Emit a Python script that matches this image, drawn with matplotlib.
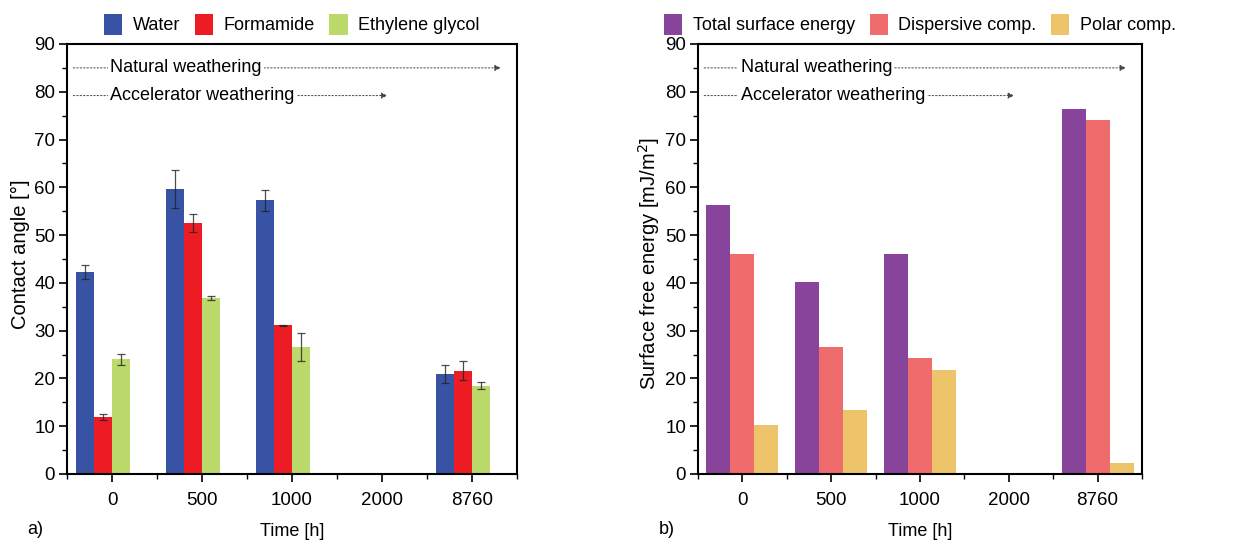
import numpy as np
import matplotlib.pyplot as plt
from matplotlib.ticker import MultipleLocator, FixedLocator

plt.rcParams['font.family'] = ['Liberation Sans', 'DejaVu Sans']
plt.rcParams['font.size'] = 13

times = ["0", "500", "1000", "2000", "8760"]

# contact angles (deg), nan where nothing was measured
water = [42.3, 59.6, 57.3, np.nan, 20.9]
water_err = [1.5, 4.0, 2.2, np.nan, 1.9]
formamide = [11.9, 52.5, 31.1, np.nan, 21.6]
formamide_err = [0.7, 1.9, 0.15, np.nan, 2.0]
glycol = [24.0, 36.8, 26.6, np.nan, 18.5]
glycol_err = [1.1, 0.4, 3.0, np.nan, 0.8]

# surface free energy (mJ/m2)
total = [56.4, 40.1, 46.0, np.nan, 76.3]
dispersive = [46.1, 26.5, 24.2, np.nan, 74.1]
polar = [10.3, 13.5, 21.8, np.nan, 2.3]

FS = 13


def style_axes(ax, ylabel, tag, ylab_xy):
    ax.set_xlim(-0.5, 4.5)
    ax.set_ylim(0, 90)
    ax.set_xticks(range(len(times)))
    ax.set_xticklabels(times)
    ax.xaxis.set_minor_locator(FixedLocator(np.arange(-0.5, 5.0, 1.0)))
    ax.yaxis.set_major_locator(MultipleLocator(10))
    ax.yaxis.set_minor_locator(MultipleLocator(5))
    ax.tick_params(which='major', direction='out', length=6, width=1.2, labelsize=FS + 0.5)
    ax.tick_params(which='minor', direction='out', length=3.5, width=1.0)
    ax.tick_params(axis='x', which='major', pad=7)
    ax.tick_params(axis='y', which='major', pad=2.5)
    for s in ax.spines.values():
        s.set_linewidth(1.5)
    ax.set_ylabel(ylabel, fontsize=FS + 1.5)
    ax.yaxis.set_label_coords(*ylab_xy)
    ax.set_xlabel("Time [h]", fontsize=FS)
    ax.xaxis.set_label_coords(0.5, -0.114)
    ax.text(-0.088, -0.14, tag, transform=ax.transAxes, fontsize=FS)

    # weathering arrows
    for y, label, x_end in [(85, "Natural weathering", 4.32), (79.2, "Accelerator weathering", 3.06)]:
        ax.annotate("", xy=(x_end, y), xytext=(-0.43, y),
                    arrowprops=dict(arrowstyle='-|>', linestyle=(0, (1.5, 2)), lw=0.7,
                                    color='#444444', mutation_scale=9, shrinkA=0, shrinkB=0))
        ax.text(-0.02, y, label, fontsize=FS, va='center', ha='left',
                bbox=dict(facecolor='white', edgecolor='none', pad=1.5))


fig = plt.figure(figsize=(12.43, 5.41), dpi=100)
ax1 = fig.add_axes([67 / 1243, 67 / 541, 450 / 1243, 430 / 541])
ax2 = fig.add_axes([698 / 1243, 67 / 541, 444 / 1243, 430 / 541])

x = np.arange(len(times))
w = 0.2
eb = dict(ecolor='#222222', elinewidth=0.9, capsize=3, capthick=0.9, alpha=0.8)
ax1.bar(x - 0.3, water, w, yerr=water_err, color='#3953A4', label='Water', error_kw=eb)
ax1.bar(x - 0.1, formamide, w, yerr=formamide_err, color='#ED1C24', label='Formamide', error_kw=eb)
ax1.bar(x + 0.1, glycol, w, yerr=glycol_err, color='#BCD96B', label='Ethylene glycol', error_kw=eb)
style_axes(ax1, "Contact angle [°]", "a)", (-0.082, 0.51))

w2 = 0.27
ax2.bar(x - w2, total, w2, color='#88449A', label='Total surface energy')
ax2.bar(x, dispersive, w2, color='#F06B6B', label='Dispersive comp.')
ax2.bar(x + w2, polar, w2, color='#EDC46A', label='Polar comp.')
style_axes(ax2, "Surface free energy [mJ/m$^2$]", "b)", (-0.082, 0.49))

for ax in (ax1, ax2):
    ax.legend(loc='lower center', bbox_to_anchor=(0.5, 1.012), ncol=3, frameon=False,
              fontsize=FS, handlelength=1.0, handleheight=1.45, handletextpad=0.6,
              columnspacing=0.8, borderaxespad=0.1, borderpad=0.1)

fig.savefig("out.png", dpi=100)
